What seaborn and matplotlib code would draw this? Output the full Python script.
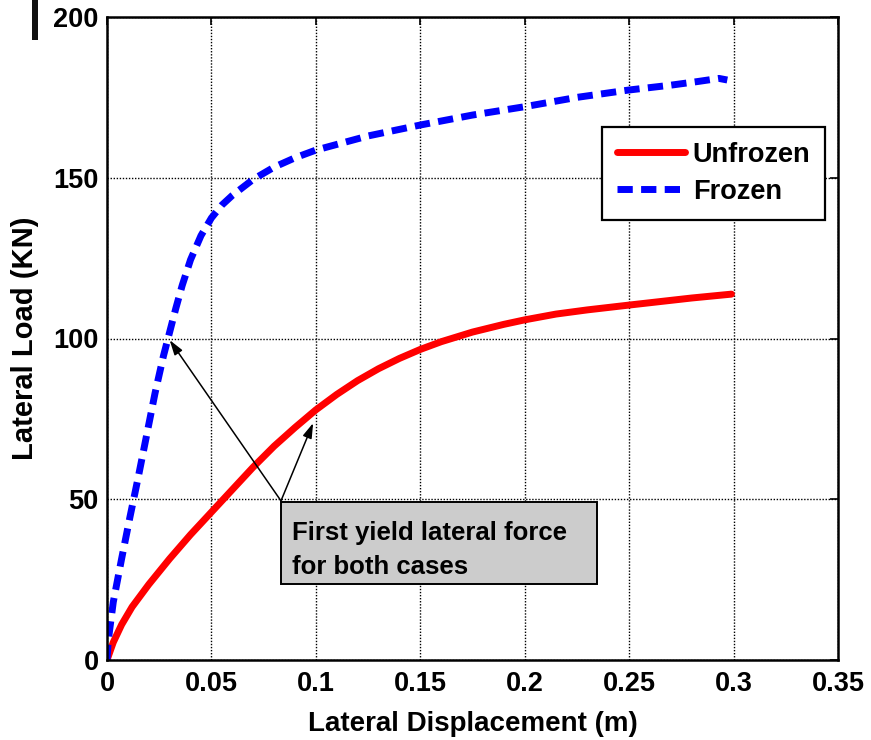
import matplotlib
matplotlib.use("Agg")
import matplotlib.pyplot as plt
import seaborn as sns
import pandas as pd
from matplotlib.patches import Rectangle

# ---- data ----
unfrozen_x = [0, 0.003, 0.007, 0.012, 0.02, 0.03, 0.04, 0.05, 0.06, 0.07, 0.08, 0.09,
              0.1, 0.11, 0.12, 0.13, 0.14, 0.15, 0.16, 0.175, 0.19, 0.2, 0.215, 0.23,
              0.25, 0.265, 0.28, 0.299]
unfrozen_y = [0, 5.5, 11.0, 16.5, 23.5, 31.5, 39.0, 46.0, 53.0, 60.0, 66.5, 72.3,
              77.8, 82.6, 86.9, 90.6, 93.8, 96.6, 99.0, 102.0, 104.4, 105.8, 107.6, 108.9,
              110.4, 111.5, 112.6, 113.8]

frozen_x = [0, 0.0005, 0.001, 0.003, 0.007, 0.011, 0.015, 0.019, 0.023, 0.027, 0.03,
            0.033, 0.036, 0.04, 0.045, 0.05, 0.055, 0.06, 0.07, 0.08, 0.09, 0.1,
            0.125, 0.15, 0.175, 0.2, 0.225, 0.25, 0.27, 0.2825, 0.293, 0.297]
frozen_y = [0, 5.0, 8.0, 18.0, 31.5, 44.5, 57.0, 70.0, 83.0, 94.5, 102.0,
            109.5, 116.5, 124.5, 132.0, 137.5, 141.5, 144.5, 149.5, 153.3, 156.2, 158.6,
            163.0, 166.4, 169.5, 172.1, 175.0, 177.3, 178.8, 179.9, 180.9, 180.4]

series_names = ["Unfrozen", "Frozen"]
x_ticks = [0, 0.05, 0.1, 0.15, 0.2, 0.25, 0.3, 0.35]
x_tick_labels = ["0", "0.05", "0.1", "0.15", "0.2", "0.25", "0.3", "0.35"]
y_ticks = [0, 50, 100, 150, 200]
annotation_text = "First yield lateral force\nfor both cases"
arrow_targets_x = [0.030, 0.0987]
arrow_targets_y = [99.5, 73.7]
arrow_origin = (0.0833, 49.5)

df_u = pd.DataFrame({"x": unfrozen_x, "y": unfrozen_y})
df_f = pd.DataFrame({"x": frozen_x, "y": frozen_y})

sns.set_style("white")
plt.rcParams["font.family"] = ["Liberation Sans", "DejaVu Sans"]
plt.rcParams["font.weight"] = "bold"
for k in ["text.color", "axes.labelcolor", "xtick.color", "ytick.color"]:
    plt.rcParams[k] = "black"

fig = plt.figure(figsize=(8.71, 7.40), dpi=100)
ax = fig.add_axes([107 / 871, 80 / 740, (838 - 107) / 871, (660 - 17) / 740])

sns.lineplot(data=df_u, x="x", y="y", ax=ax, color="#ff0000", linewidth=5,
             label=series_names[0], sort=False)
sns.lineplot(data=df_f, x="x", y="y", ax=ax, color="#0000ff", linewidth=5,
             label=series_names[1], sort=False)
ax.lines[0].set_solid_joinstyle("round")
ax.lines[1].set_dashes((2.2, 1.2))
ax.lines[1].set_dash_capstyle("butt")

ax.set_xlim(0, 0.35)
ax.set_ylim(0, 200)
ax.set_xticks(x_ticks)
ax.set_xticklabels(x_tick_labels)
ax.set_yticks(y_ticks)
ax.grid(True, color="black", linestyle=(0, (1, 1.2)), linewidth=1.0)
ax.tick_params(direction="in", length=6, width=1.2, top=True, right=True,
               pad=8, colors="black")
ax.tick_params(axis="y", pad=6)
for lab in ax.get_xticklabels() + ax.get_yticklabels():
    lab.set_fontweight("bold")
    lab.set_fontsize(19.5)
for s in ax.spines.values():
    s.set_color("black")
    s.set_linewidth(1.8)

ax.set_xlabel("Lateral Displacement (m)", fontsize=20, fontweight="bold", labelpad=10)
ax.set_ylabel("Lateral Load (KN)", fontsize=21, fontweight="bold", labelpad=10)

leg = ax.legend(loc="upper left", bbox_to_anchor=((602 - 107) / 731, (660 - 127) / 643),
                frameon=True, fancybox=False, handlelength=2.5, borderaxespad=0,
                handletextpad=0.3, borderpad=0.55, labelspacing=0.4,
                prop={"weight": "bold", "size": 19.5})
leg.get_frame().set_edgecolor("black")
leg.get_frame().set_linewidth(1.6)
leg.get_frame().set_alpha(1)

# annotation box
ax.add_patch(Rectangle((0.0833, 23.6), 0.2347 - 0.0833, 49.1 - 23.6,
                       facecolor="#cccccc", edgecolor="black", linewidth=1.4, zorder=5))
ax.text(0.0885, 43.3, annotation_text, fontsize=18.5, fontweight="bold",
        ha="left", va="top", linespacing=1.55, zorder=6)
for tx, ty in zip(arrow_targets_x, arrow_targets_y):
    ax.annotate("", xy=(tx, ty), xytext=arrow_origin,
                arrowprops=dict(arrowstyle="-|>,head_length=0.9,head_width=0.28",
                                color="black", lw=1.1, shrinkA=0, shrinkB=0),
                zorder=6)

# black bar artifact at top-left of the figure
fig.patches.append(Rectangle((32 / 871, 1 - 40 / 740), 6 / 871, 40 / 740,
                             transform=fig.transFigure, facecolor="#111111",
                             edgecolor="none"))

fig.savefig("out.png", dpi=100)
